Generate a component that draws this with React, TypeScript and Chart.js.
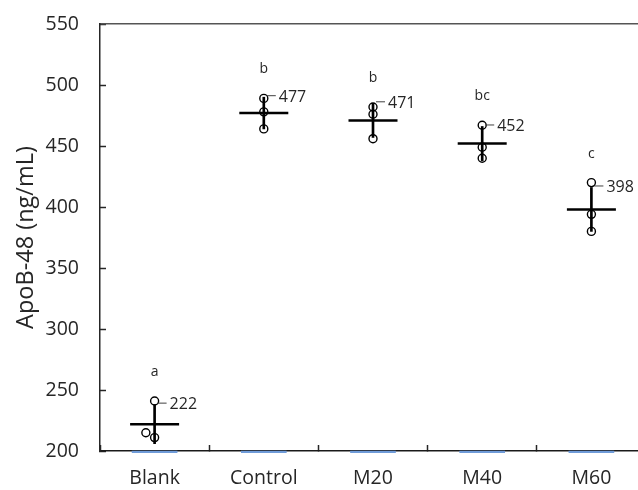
import React, { useEffect, useRef } from 'react';
import { Chart, registerables } from 'chart.js';

Chart.register(...registerables);

const categories = ['Blank', 'Control', 'M20', 'M40', 'M60'];
// individual replicate values (ng/mL)
const replicate1 = [241, 489, 482, 467, 420];
const replicate2 = [215, 478, 476, 449, 394];
const replicate3 = [211, 464, 456, 440, 380];
// x position of replicate 2 relative to its category (category units)
const replicate2X = [-0.08, 0, 0, 0, 0];
// group means and standard deviations
const means = [222, 477, 471, 452, 398];
const sds = [16, 13, 14, 14, 18];
// significance letters
const letters = ['a', 'b', 'b', 'bc', 'c'];
const yMin = 200;
const yMax = 550;
const yStep = 50;

const FONT = '"Open Sans", "Noto Sans", sans-serif';
const TEXT = '#262626';

const annotations = {
  id: 'annotations',
  afterDatasetsDraw(chart: any) {
    const { ctx } = chart;
    const xs = chart.scales.xv;
    const ys = chart.scales.y;
    ctx.save();
    categories.forEach((_, i) => {
      const x = xs.getPixelForValue(i);
      const top = ys.getPixelForValue(means[i] + sds[i]);
      const maxPt = Math.max(replicate1[i], replicate2[i], replicate3[i]);
      const yl = ys.getPixelForValue(maxPt) - 29;
      ctx.fillStyle = TEXT;
      ctx.font = `14px ${FONT}`;
      ctx.textAlign = 'center';
      ctx.textBaseline = 'middle';
      ctx.fillText(letters[i], x, yl);
      ctx.font = `16px ${FONT}`;
      ctx.textAlign = 'left';
      ctx.fillText(String(means[i]), x + 15, top);
      ctx.strokeStyle = '#404040';
      ctx.lineWidth = 1;
      ctx.beginPath();
      ctx.moveTo(x + 3, top - 1.5);
      ctx.lineTo(x + 12, top - 1.5);
      ctx.stroke();
    });
    ctx.restore();
  },
};

export default function App() {
  const ref = useRef<HTMLCanvasElement | null>(null);

  useEffect(() => {
    if (!ref.current) return;
    const points: { x: number; y: number }[] = [];
    categories.forEach((_, i) => {
      points.push({ x: i, y: replicate1[i] });
      points.push({ x: i + replicate2X[i], y: replicate2[i] });
      points.push({ x: i, y: replicate3[i] });
    });
    const chart = new Chart(ref.current, {
      type: 'bar',
      data: {
        labels: categories,
        datasets: [
          {
            type: 'bar',
            label: 'base',
            data: categories.map(() => [yMin - 1.3, yMin - 0.1]) as any,
            backgroundColor: '#6f9bd8',
            barThickness: 45,
            grouped: false,
            clip: false as any,
            xAxisID: 'x',
            yAxisID: 'y',
            order: 5,
          } as any,
          {
            type: 'bar',
            label: 'SD',
            data: categories.map((_, i) => [means[i] - sds[i], means[i] + sds[i]]) as any,
            backgroundColor: '#000000',
            barThickness: 2,
            grouped: false,
            xAxisID: 'x',
            yAxisID: 'y',
            order: 2,
          } as any,
          {
            type: 'scatter',
            label: 'replicates',
            data: points,
            xAxisID: 'xv',
            yAxisID: 'y',
            pointRadius: 4,
            pointBorderWidth: 1.4,
            pointBorderColor: '#000000',
            pointBackgroundColor: 'rgba(255,255,255,0)',
            showLine: false,
            order: 3,
          } as any,
          {
            type: 'scatter',
            label: 'mean',
            data: means.map((m, i) => ({ x: i, y: m })),
            xAxisID: 'xv',
            yAxisID: 'y',
            pointStyle: 'line',
            pointRadius: 24.5,
            pointBorderWidth: 2.5,
            pointBorderColor: '#000000',
            showLine: false,
            order: 1,
          } as any,
        ],
      },
      options: {
        responsive: false,
        animation: false,
        devicePixelRatio: 1,
        layout: { autoPadding: false, padding: { top: 24, left: 0, right: 0, bottom: 0 } },
        plugins: { legend: { display: false }, tooltip: { enabled: false } },
        scales: {
          x: {
            type: 'category',
            position: 'bottom',
            offset: true,
            grid: {
              offset: true,
              drawOnChartArea: false,
              drawTicks: true,
              tickLength: -6,
              tickWidth: 1.5,
              color: '#262626',
            },
            border: { display: true, color: '#1a1a1a', width: 1.5 },
            ticks: { color: TEXT, font: { family: FONT, size: 19.5 }, padding: 22 },
            afterFit: (s: any) => {
              s.height = 39;
              s.paddingLeft = 0;
              s.paddingRight = 0;
            },
          },
          xt: {
            type: 'category',
            position: 'top',
            offset: true,
            grid: { display: true, drawOnChartArea: false, drawTicks: false },
            border: { display: true, color: '#555555', width: 1.5 },
            ticks: { display: false },
            afterFit: (s: any) => {
              s.height = 0;
              s.paddingLeft = 0;
              s.paddingRight = 0;
            },
          },
          xv: { type: 'linear', display: false, offset: false, min: -0.5, max: 4.5 },
          y: {
            type: 'linear',
            position: 'left',
            min: yMin,
            max: yMax,
            ticks: {
              stepSize: yStep,
              color: TEXT,
              font: { family: FONT, size: 19.5 },
              padding: 27,
            },
            grid: {
              drawOnChartArea: false,
              drawTicks: true,
              tickLength: -6,
              tickWidth: 1.5,
              color: '#262626',
            },
            border: { display: true, color: '#262626', width: 1.5 },
            title: {
              display: true,
              text: 'ApoB-48 (ng/mL)',
              color: TEXT,
              font: { family: FONT, size: 23.5 },
              padding: { top: 12, bottom: 0 },
            },
            afterFit: (s: any) => {
              s.width = 100;
              s.paddingTop = 0;
              s.paddingBottom = 0;
            },
          },
        } as any,
      },
      plugins: [annotations],
    });
    return () => chart.destroy();
  }, []);

  return (
    <div
      style={{
        position: 'fixed',
        left: 0,
        top: 0,
        width: 638,
        height: 490,
        overflow: 'hidden',
        background: '#fff',
      }}
    >
      <canvas ref={ref} width={646} height={490} style={{ width: 646, height: 490, display: 'block' }} />
    </div>
  );
}
